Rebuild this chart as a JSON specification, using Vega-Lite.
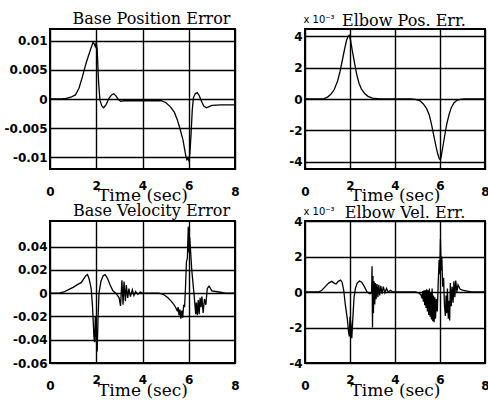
{
  "$schema": "https://vega.github.io/schema/vega-lite/v6.json",
  "background": "white",
  "padding": {"left": 3, "top": 10, "right": 0, "bottom": 0},
  "config": {
    "view": {"stroke": "black", "strokeWidth": 2},
    "axis": {
      "grid": true, "gridColor": "black", "gridWidth": 1.4, "gridOpacity": 1,
      "domain": false, "ticks": false,
      "labelFont": "DejaVu Sans", "labelFontWeight": "bold", "labelFontSize": 12, "labelColor": "black",
      "titleFont": "DejaVu Serif", "titleFontSize": 17, "titleFontWeight": "normal", "titleColor": "black"
    },
    "axisX": {"labelFlush": false},
    "axisY": {"labelPadding": 3, "labelBaseline": "middle"},
    "title": {"font": "DejaVu Serif", "fontSize": 16, "fontWeight": "normal", "color": "black", "baseline": "alphabetic", "offset": 2},
    "line": {"color": "black", "strokeWidth": 1.3}
  },
  "datasets": {
    "bpe": [
      {"t": 0, "v": 0}, {"t": 0.5, "v": 0}, {"t": 0.7, "v": 0.0001}, {"t": 0.9, "v": 0.0003}, {"t": 1.1, "v": 0.0007},
      {"t": 1.25, "v": 0.0018}, {"t": 1.4, "v": 0.0038}, {"t": 1.55, "v": 0.006}, {"t": 1.67, "v": 0.0075},
      {"t": 1.78, "v": 0.0088}, {"t": 1.86, "v": 0.0097}, {"t": 1.92, "v": 0.0094}, {"t": 1.96, "v": 0.009},
      {"t": 2.0, "v": 0.0097}, {"t": 2.04, "v": 0.0085}, {"t": 2.1, "v": 0.003}, {"t": 2.16, "v": -0.0002},
      {"t": 2.24, "v": -0.0012}, {"t": 2.32, "v": -0.0015}, {"t": 2.42, "v": -0.001}, {"t": 2.55, "v": 0.0001},
      {"t": 2.66, "v": 0.0007}, {"t": 2.76, "v": 0.0009}, {"t": 2.86, "v": 0.0005}, {"t": 2.96, "v": -0.0001},
      {"t": 3.05, "v": -0.0004}, {"t": 3.2, "v": -0.0003}, {"t": 4.2, "v": -0.0003}, {"t": 4.8, "v": -0.0003},
      {"t": 5.0, "v": -0.0006}, {"t": 5.2, "v": -0.0013}, {"t": 5.38, "v": -0.0023}, {"t": 5.5, "v": -0.0035},
      {"t": 5.6, "v": -0.0048}, {"t": 5.75, "v": -0.007}, {"t": 5.83, "v": -0.0088}, {"t": 5.88, "v": -0.0099},
      {"t": 5.92, "v": -0.0104}, {"t": 5.96, "v": -0.0101}, {"t": 6.0, "v": -0.0105}, {"t": 6.05, "v": -0.0093},
      {"t": 6.1, "v": -0.006}, {"t": 6.15, "v": -0.002}, {"t": 6.2, "v": 0.0002}, {"t": 6.28, "v": 0.0009},
      {"t": 6.37, "v": 0.0011}, {"t": 6.45, "v": 0.0006}, {"t": 6.55, "v": -0.0004}, {"t": 6.65, "v": -0.0012},
      {"t": 6.76, "v": -0.0015}, {"t": 6.88, "v": -0.0013}, {"t": 7.0, "v": -0.0011}, {"t": 7.4, "v": -0.001},
      {"t": 8.0, "v": -0.001}
    ],
    "epe": [
      {"t": 0, "v": 0}, {"t": 0.7, "v": 0}, {"t": 0.85, "v": 0.03}, {"t": 1.0, "v": 0.12}, {"t": 1.15, "v": 0.3},
      {"t": 1.3, "v": 0.6}, {"t": 1.45, "v": 1.15}, {"t": 1.55, "v": 1.7}, {"t": 1.65, "v": 2.4}, {"t": 1.75, "v": 3.1},
      {"t": 1.84, "v": 3.7}, {"t": 1.92, "v": 4.0}, {"t": 1.97, "v": 4.05}, {"t": 2.03, "v": 3.7}, {"t": 2.1, "v": 3.1},
      {"t": 2.2, "v": 2.3}, {"t": 2.3, "v": 1.55}, {"t": 2.4, "v": 1.0}, {"t": 2.5, "v": 0.65}, {"t": 2.65, "v": 0.35},
      {"t": 2.8, "v": 0.17}, {"t": 3.0, "v": 0.06}, {"t": 3.3, "v": 0.01}, {"t": 3.6, "v": 0}, {"t": 4.7, "v": 0},
      {"t": 4.9, "v": -0.02}, {"t": 5.1, "v": -0.1}, {"t": 5.25, "v": -0.3}, {"t": 5.4, "v": -0.6}, {"t": 5.52, "v": -1.0},
      {"t": 5.62, "v": -1.6}, {"t": 5.72, "v": -2.3}, {"t": 5.82, "v": -3.0}, {"t": 5.9, "v": -3.5}, {"t": 5.97, "v": -3.8},
      {"t": 6.02, "v": -3.85}, {"t": 6.06, "v": -3.6}, {"t": 6.12, "v": -3.1}, {"t": 6.2, "v": -2.4}, {"t": 6.3, "v": -1.6},
      {"t": 6.4, "v": -1.0}, {"t": 6.5, "v": -0.55}, {"t": 6.62, "v": -0.25}, {"t": 6.75, "v": -0.08}, {"t": 6.9, "v": -0.02},
      {"t": 7.1, "v": 0}, {"t": 8, "v": 0}
    ],
    "bve": [
      {"t": 0, "v": 0}, {"t": 0.4, "v": 0}, {"t": 0.6, "v": 0.001}, {"t": 0.8, "v": 0.003}, {"t": 1.0, "v": 0.005},
      {"t": 1.2, "v": 0.0075}, {"t": 1.35, "v": 0.009}, {"t": 1.45, "v": 0.012}, {"t": 1.55, "v": 0.015},
      {"t": 1.62, "v": 0.016}, {"t": 1.68, "v": 0.013}, {"t": 1.74, "v": 0.008}, {"t": 1.78, "v": 0.004},
      {"t": 1.84, "v": -0.012}, {"t": 1.9, "v": -0.038}, {"t": 1.93, "v": -0.042}, {"t": 1.96, "v": -0.02},
      {"t": 2.0, "v": -0.04}, {"t": 2.04, "v": -0.05}, {"t": 2.08, "v": -0.02}, {"t": 2.12, "v": 0.0},
      {"t": 2.2, "v": 0.01}, {"t": 2.3, "v": 0.015}, {"t": 2.38, "v": 0.016}, {"t": 2.48, "v": 0.013},
      {"t": 2.6, "v": 0.007}, {"t": 2.72, "v": 0.002}, {"t": 2.85, "v": 0.0}, {"t": 2.99, "v": -0.004},
      {"t": 3.05, "v": -0.011}, {"t": 3.11, "v": 0.011}, {"t": 3.16, "v": -0.01}, {"t": 3.2, "v": 0.01},
      {"t": 3.26, "v": -0.007}, {"t": 3.3, "v": 0.007}, {"t": 3.36, "v": -0.004}, {"t": 3.41, "v": 0.004},
      {"t": 3.48, "v": -0.003}, {"t": 3.56, "v": 0.003}, {"t": 3.63, "v": -0.002}, {"t": 3.7, "v": 0.0015},
      {"t": 3.8, "v": -0.001}, {"t": 3.9, "v": 0.001}, {"t": 4.0, "v": 0}, {"t": 4.7, "v": 0},
      {"t": 4.9, "v": -0.001}, {"t": 5.1, "v": -0.004}, {"t": 5.25, "v": -0.007}, {"t": 5.4, "v": -0.011},
      {"t": 5.5, "v": -0.015}, {"t": 5.54, "v": -0.012}, {"t": 5.58, "v": -0.019}, {"t": 5.62, "v": -0.014},
      {"t": 5.66, "v": -0.022}, {"t": 5.7, "v": -0.015}, {"t": 5.74, "v": -0.021}, {"t": 5.78, "v": -0.01},
      {"t": 5.82, "v": -0.012}, {"t": 5.86, "v": 0.005}, {"t": 5.9, "v": 0.027}, {"t": 5.94, "v": 0.03},
      {"t": 5.98, "v": 0.057}, {"t": 6.01, "v": 0.035}, {"t": 6.04, "v": 0.048}, {"t": 6.08, "v": 0.036},
      {"t": 6.13, "v": 0.02}, {"t": 6.2, "v": 0.005}, {"t": 6.26, "v": -0.008}, {"t": 6.3, "v": -0.018},
      {"t": 6.33, "v": -0.008}, {"t": 6.37, "v": -0.019}, {"t": 6.41, "v": -0.006}, {"t": 6.45, "v": -0.018},
      {"t": 6.49, "v": -0.004}, {"t": 6.53, "v": -0.012}, {"t": 6.57, "v": -0.003}, {"t": 6.62, "v": -0.017},
      {"t": 6.68, "v": -0.005}, {"t": 6.74, "v": -0.01}, {"t": 6.8, "v": 0.004}, {"t": 6.88, "v": 0.006},
      {"t": 7.0, "v": 0.002}, {"t": 7.3, "v": 0.001}, {"t": 7.6, "v": 0}, {"t": 8, "v": 0}
    ],
    "eve": [
      {"t": 0, "v": 0}, {"t": 0.6, "v": 0}, {"t": 0.75, "v": 0.1}, {"t": 0.9, "v": 0.3}, {"t": 1.05, "v": 0.5},
      {"t": 1.19, "v": 0.6}, {"t": 1.3, "v": 0.5}, {"t": 1.38, "v": 0.45}, {"t": 1.48, "v": 0.6}, {"t": 1.58, "v": 0.67},
      {"t": 1.65, "v": 0.55}, {"t": 1.72, "v": 0.1}, {"t": 1.8, "v": -0.8}, {"t": 1.88, "v": -1.5}, {"t": 1.93, "v": -2.2},
      {"t": 1.97, "v": -2.5}, {"t": 2.0, "v": -1.4}, {"t": 2.04, "v": -1.8}, {"t": 2.08, "v": -2.6}, {"t": 2.13, "v": -1.4},
      {"t": 2.18, "v": -0.3}, {"t": 2.24, "v": 0.2}, {"t": 2.32, "v": 0.5}, {"t": 2.42, "v": 0.62}, {"t": 2.52, "v": 0.55},
      {"t": 2.64, "v": 0.3}, {"t": 2.76, "v": 0.0}, {"t": 2.88, "v": -0.1}, {"t": 2.96, "v": -0.05}, {"t": 2.98, "v": 1.45},
      {"t": 3.0, "v": -2.0}, {"t": 3.02, "v": 0.9}, {"t": 3.04, "v": -1.2}, {"t": 3.07, "v": 0.6}, {"t": 3.1, "v": -0.7},
      {"t": 3.13, "v": 0.5}, {"t": 3.16, "v": -0.4}, {"t": 3.2, "v": 0.45}, {"t": 3.24, "v": -0.3}, {"t": 3.28, "v": 0.4},
      {"t": 3.32, "v": -0.2}, {"t": 3.37, "v": 0.35}, {"t": 3.42, "v": -0.1}, {"t": 3.48, "v": 0.3}, {"t": 3.55, "v": -0.05},
      {"t": 3.62, "v": 0.2}, {"t": 3.7, "v": 0.0}, {"t": 3.8, "v": 0.1}, {"t": 3.9, "v": 0.0}, {"t": 4.9, "v": 0.0},
      {"t": 5.05, "v": -0.05}, {"t": 5.15, "v": -0.15}, {"t": 5.2, "v": -0.35}, {"t": 5.23, "v": 0.05}, {"t": 5.26, "v": -0.55},
      {"t": 5.29, "v": 0.1}, {"t": 5.32, "v": -0.75}, {"t": 5.35, "v": 0.1}, {"t": 5.38, "v": -0.9}, {"t": 5.41, "v": 0.15},
      {"t": 5.44, "v": -1.1}, {"t": 5.47, "v": 0.1}, {"t": 5.5, "v": -1.3}, {"t": 5.53, "v": 0.2}, {"t": 5.56, "v": -1.4},
      {"t": 5.59, "v": 0.0}, {"t": 5.62, "v": -1.55}, {"t": 5.65, "v": 0.2}, {"t": 5.68, "v": -1.65}, {"t": 5.71, "v": -0.2},
      {"t": 5.74, "v": -1.7}, {"t": 5.77, "v": -0.3}, {"t": 5.8, "v": -1.5}, {"t": 5.84, "v": -0.4}, {"t": 5.88, "v": -1.1},
      {"t": 5.92, "v": 0.5}, {"t": 5.96, "v": 1.8}, {"t": 5.99, "v": 1.0}, {"t": 6.02, "v": 3.0}, {"t": 6.05, "v": 1.2},
      {"t": 6.08, "v": 2.0}, {"t": 6.12, "v": 0.3}, {"t": 6.16, "v": 0.8}, {"t": 6.2, "v": -0.8}, {"t": 6.24, "v": -1.35},
      {"t": 6.27, "v": -0.2}, {"t": 6.3, "v": -1.2}, {"t": 6.33, "v": 0.2}, {"t": 6.37, "v": -1.5}, {"t": 6.4, "v": -0.5},
      {"t": 6.43, "v": -1.6}, {"t": 6.46, "v": 0.5}, {"t": 6.5, "v": -0.8}, {"t": 6.54, "v": 0.3}, {"t": 6.58, "v": -0.6},
      {"t": 6.62, "v": 0.6}, {"t": 6.66, "v": -0.3}, {"t": 6.7, "v": 0.65}, {"t": 6.75, "v": 0.0}, {"t": 6.8, "v": 0.4},
      {"t": 6.9, "v": 0.15}, {"t": 7.0, "v": 0.1}, {"t": 7.2, "v": 0.05}, {"t": 7.4, "v": 0.0}, {"t": 8, "v": 0}
    ]
  },
  "columns": 2,
  "spacing": {"row": 52, "column": 70},
  "bounds": "flush",
  "concat": [
    {
      "width": 185, "height": 140,
      "title": {"text": "Base Position Error", "dx": 9},
      "data": {"name": "bpe"},
      "mark": {"type": "line"},
      "encoding": {
        "x": {"field": "t", "type": "quantitative", "scale": {"domain": [0, 8], "nice": false},
          "axis": {"values": [0, 2, 4, 6, 8], "labelExpr": "datum.value + ''", "title": "Time (sec)", "titleY": 31, "titleBaseline": "alphabetic",
            "labelPadding": {"condition": {"test": "datum.value == 0 || datum.value == 8", "value": 17}, "value": 11}}},
        "y": {"field": "v", "type": "quantitative", "scale": {"domain": [-0.012, 0.012], "nice": false, "zero": false},
          "axis": {"values": [-0.01, -0.005, 0, 0.005, 0.01], "labelExpr": "datum.value + ''", "title": null}}
      }
    },
    {
      "width": 180, "height": 140,
      "title": {"text": "Elbow Pos. Err.", "dx": 9, "offset": -15},
      "data": {"name": "epe"},
      "mark": {"type": "line"},
      "encoding": {
        "x": {"field": "t", "type": "quantitative", "scale": {"domain": [0, 8], "nice": false},
          "axis": {"values": [0, 2, 4, 6, 8], "labelExpr": "datum.value + ''", "title": "Time (sec)", "titleY": 31, "titleBaseline": "alphabetic",
            "labelPadding": {"condition": {"test": "datum.value == 0 || datum.value == 8", "value": 17}, "value": 11}}},
        "y": {"field": "v", "type": "quantitative", "scale": {"domain": [-4.45, 4.45], "nice": false, "zero": false},
          "axis": {"values": [-4, -2, 0, 2, 4], "labelExpr": "datum.value + ''", "title": "x 10⁻³", "titleAngle": 0, "titleX": -2, "titleY": -7,
            "titleAlign": "left", "titleBaseline": "alphabetic", "titleFont": "DejaVu Sans", "titleFontSize": 10}}
      }
    },
    {
      "width": 185, "height": 142,
      "title": {"text": "Base Velocity Error", "dx": 9},
      "data": {"name": "bve"},
      "mark": {"type": "line"},
      "encoding": {
        "x": {"field": "t", "type": "quantitative", "scale": {"domain": [0, 8], "nice": false},
          "axis": {"values": [0, 2, 4, 6, 8], "labelExpr": "datum.value + ''", "title": "Time (sec)", "titleY": 32, "titleBaseline": "alphabetic",
            "labelPadding": {"condition": {"test": "datum.value == 0 || datum.value == 8", "value": 17}, "value": 11}}},
        "y": {"field": "v", "type": "quantitative", "scale": {"domain": [-0.06, 0.062], "nice": false, "zero": false},
          "axis": {"values": [-0.06, -0.04, -0.02, 0, 0.02, 0.04], "labelExpr": "datum.value + ''", "title": null}}
      }
    },
    {
      "width": 180, "height": 142,
      "title": {"text": "Elbow Vel. Err.", "dx": 10, "offset": -15},
      "data": {"name": "eve"},
      "mark": {"type": "line"},
      "encoding": {
        "x": {"field": "t", "type": "quantitative", "scale": {"domain": [0, 8], "nice": false},
          "axis": {"values": [0, 2, 4, 6, 8], "labelExpr": "datum.value + ''", "title": "Time (sec)", "titleY": 32, "titleBaseline": "alphabetic",
            "labelPadding": {"condition": {"test": "datum.value == 0 || datum.value == 8", "value": 17}, "value": 11}}},
        "y": {"field": "v", "type": "quantitative", "scale": {"domain": [-4, 4], "nice": false, "zero": false},
          "axis": {"values": [-4, -2, 0, 2, 4], "labelExpr": "datum.value + ''", "title": "x 10⁻³", "titleAngle": 0, "titleX": -2, "titleY": -7,
            "titleAlign": "left", "titleBaseline": "alphabetic", "titleFont": "DejaVu Sans", "titleFontSize": 10}}
      }
    }
  ]
}
